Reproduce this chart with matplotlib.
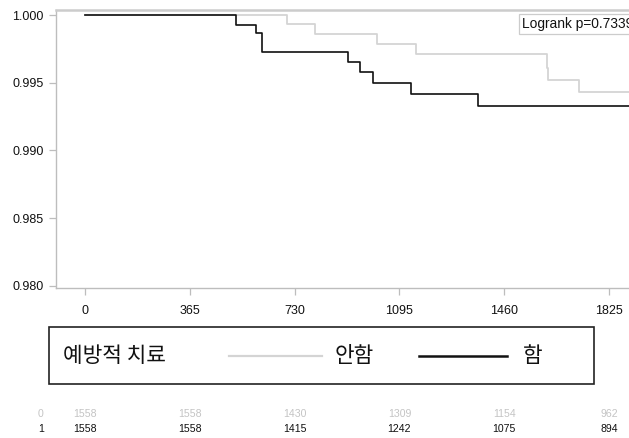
import matplotlib
matplotlib.use("Agg")
import matplotlib.pyplot as plt
from matplotlib.patches import Rectangle
import matplotlib.transforms as mtransforms

# ---- data ----
group_labels = ["안함", "함"]
risk_labels = ["0", "1"]
# group 0 (안함, no treatment)
t0 = [0, 705, 800, 1016, 1153, 1609, 1613, 1720, 1935]
s0 = [1.0, 0.99931, 0.99860, 0.99786, 0.99710, 0.99612, 0.99521, 0.99430, 0.99430]
# group 1 (함, treatment)
t1 = [0, 527, 597, 615, 915, 958, 1004, 1134, 1370, 1935]
s1 = [1.0, 0.99928, 0.99865, 0.99729, 0.99653, 0.99580, 0.99496, 0.99420, 0.99329, 0.99329]
xticks = [0, 365, 730, 1095, 1460, 1825]
yticks = [0.980, 0.985, 0.990, 0.995, 1.000]
risk0 = [1558, 1558, 1430, 1309, 1154, 962]
risk1 = [1558, 1558, 1415, 1242, 1075, 894]
legend_title = "예방적 치료"
pvalue_text = "Logrank p=0.7339"

W, H = 629, 438
fig = plt.figure(figsize=(W / 100, H / 100), dpi=100)

def fx(px):
    return px / W

def fy(py):
    return 1 - py / H

ax = fig.add_axes([fx(56), fy(288), fx(640) - fx(56), fy(10) - fy(288)])

c_gray = "#d4d4d4"
c_black = "#111111"
spine_c = "#bdbdbd"

ax.step(t0, s0, where="post", color=c_gray, lw=1.3)
ax.step(t1, s1, where="post", color=c_black, lw=1.2)

ax.set_xlim(-101, 1933)
ax.set_ylim(0.97985, 1.00037)
ax.set_xticks(xticks)
ax.set_xticklabels([str(v) for v in xticks], fontfamily="Liberation Sans", fontsize=9)
ax.set_yticks(yticks)
ax.set_yticklabels([f"{v:.3f}" for v in yticks], fontfamily="Liberation Sans", fontsize=9)
ax.tick_params(axis="both", colors=spine_c, labelcolor="#111111", length=5, width=0.9)
ax.tick_params(axis="x", pad=7)
ax.tick_params(axis="y", pad=4)
for side in ["left", "bottom", "right"]:
    ax.spines[side].set_color(spine_c)
    ax.spines[side].set_linewidth(1.0)
ax.spines["top"].set_color("#cccccc")
ax.spines["top"].set_linewidth(1.8)

# logrank box
ax.text(fx(522), fy(24), pvalue_text, transform=fig.transFigure,
        fontfamily="Liberation Sans", fontsize=9.9, color="#111111",
        va="center", ha="left",
        bbox=dict(boxstyle="square,pad=0.2", fc="white", ec="#cccccc", lw=0.9))

# legend box
fig.patches.append(Rectangle((fx(48.5), fy(384)), fx(593.5) - fx(48.5), fy(327) - fy(384),
                             transform=fig.transFigure, fill=False, ec="#222222", lw=1.2))
kfont = ["Noto Sans CJK KR", "DejaVu Sans"]
fs_leg = 15.4
fig.text(fx(63), fy(356), legend_title, family=kfont, fontsize=fs_leg, va="center", ha="left", color="#111111")
fig.lines.append(plt.Line2D([fx(229), fx(322)], [fy(356), fy(356)], transform=fig.transFigure,
                            color=c_gray, lw=1.6))
fig.text(fx(335), fy(356), group_labels[0], family=kfont, fontsize=fs_leg, va="center", ha="left", color="#111111")
fig.lines.append(plt.Line2D([fx(419), fx(507)], [fy(356), fy(356)], transform=fig.transFigure,
                            color=c_black, lw=1.8))
fig.text(fx(523), fy(356), group_labels[1], family=kfont, fontsize=fs_leg, va="center", ha="left", color="#111111")

# number at risk
trans = mtransforms.blended_transform_factory(ax.transData, fig.transFigure)
rows = [(risk0, "#c4c4c4", 414), (risk1, "#111111", 429)]
for (vals, col, py), lab in zip(rows, risk_labels):
    fig.text(fx(41), fy(py), lab, fontfamily="Liberation Sans", fontsize=7.6, color=col,
             ha="center", va="center")
    for t, v in zip(xticks, vals):
        fig.text(t, fy(py), str(v), transform=trans, fontfamily="Liberation Sans",
                 fontsize=7.6, color=col, ha="center", va="center", clip_on=False)

fig.savefig("out.png", dpi=100)
